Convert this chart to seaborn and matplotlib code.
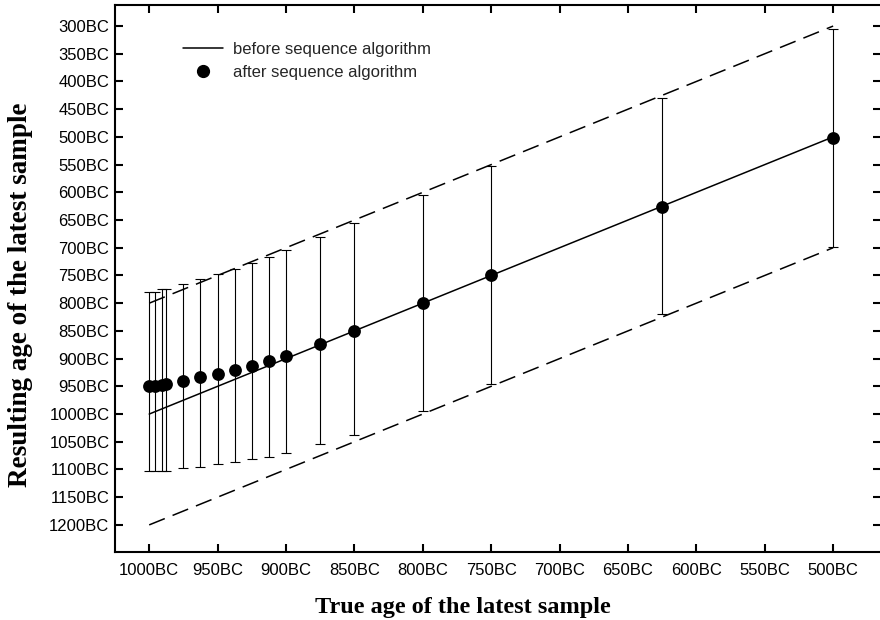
import matplotlib
matplotlib.use("Agg")
import matplotlib.pyplot as plt
import seaborn as sns
import pandas as pd
from matplotlib.lines import Line2D

# True age (years BC) of the latest sample in each simulated sequence
true_age = [1000, 996, 991, 988, 975, 962.5, 950, 937.5, 925, 912.5,
            900, 875, 850, 800, 750, 625, 500]
# Resulting age after the sequence algorithm (years BC)
after_mean = [950, 949, 947, 946, 940, 934, 928, 921, 914, 905,
              896, 873, 850, 800, 750, 626, 502]
# Upper (younger) and lower (older) ends of the resulting age range
after_young = [780, 780, 775, 775, 765, 757, 748, 739, 728, 716,
               704, 681, 655, 605, 553, 430, 306]
after_old = [1102, 1102, 1102, 1102, 1098, 1095, 1091, 1087, 1082, 1077,
             1070, 1054, 1037, 995, 945, 820, 698]

# Before the sequence algorithm: resulting age equals the true age, +-200 years
before_true = [1000, 500]
before_mean = [1000, 500]
before_halfwidth = 200

y_ticks = list(range(300, 1201, 50))
x_ticks = list(range(1000, 499, -50))

sns.set_style("ticks")
plt.rcParams["font.family"] = ["Liberation Sans", "DejaVu Sans"]

fig = plt.figure(figsize=(8.8, 6.2), dpi=100)
ax = fig.add_axes([115 / 880, (620 - 551.5) / 620, (881 - 115) / 880, (551.5 - 5) / 620])
ax.set_facecolor("white")

# Years BC are plotted as negative numbers so time runs left to right / bottom to top
before = pd.DataFrame({
    "x": [-v for v in before_true],
    "mid": [-v for v in before_mean],
    "hi": [-(v - before_halfwidth) for v in before_mean],
    "lo": [-(v + before_halfwidth) for v in before_mean],
})
sns.lineplot(data=before, x="x", y="mid", ax=ax, color="black", linewidth=1.1)
for col in ("hi", "lo"):
    sns.lineplot(data=before, x="x", y=col, ax=ax, color="black",
                 linewidth=1.1, dashes=False).lines[-1].set_dashes((11, 5.5))

after = pd.DataFrame({
    "x": [-v for v in true_age],
    "y": [-v for v in after_mean],
    "young": [-v for v in after_young],
    "old": [-v for v in after_old],
})
ax.errorbar(after["x"], after["y"],
            yerr=[after["y"] - after["old"], after["young"] - after["y"]],
            fmt="none", ecolor="black", elinewidth=0.8, capsize=3.5, capthick=0.8)
sns.scatterplot(data=after, x="x", y="y", ax=ax, color="black", s=85,
                edgecolor="black", linewidth=0, zorder=5)

ax.set_xlim(-1025, -465)
ax.set_ylim(-1248, -262)
ax.set_xticks([-v for v in x_ticks])
ax.set_xticklabels([f"{v}BC" for v in x_ticks])
ax.set_yticks([-v for v in y_ticks])
ax.set_yticklabels([f"{v}BC" for v in y_ticks])
ax.tick_params(axis="both", direction="in", length=6, width=1.5,
               labelsize=12, colors="black", labelcolor="black", top=True, right=True)
ax.tick_params(axis="x", pad=8)
ax.tick_params(axis="y", pad=4)
for s in ax.spines.values():
    s.set_visible(True)
    s.set_linewidth(1.5)
    s.set_color("black")

ax.set_xlabel("True age of the latest sample", fontfamily="Liberation Serif",
              fontweight="bold", fontsize=17.5, color="black", labelpad=14)
ax.set_ylabel("Resulting age of the latest sample", fontfamily="Liberation Serif",
              fontweight="bold", fontsize=19.5, color="black", labelpad=12)
ax.xaxis.set_label_coords((463 - 115) / 766, -0.083)
ax.xaxis.label.set_verticalalignment("top")
ax.yaxis.label.set_y((551.5 - 294.5) / 546.5)

handles = [
    Line2D([], [], color="black", linewidth=1.1),
    Line2D([], [], color="black", marker="o", markersize=8.5, linestyle="none"),
]
ax.legend(handles, ["before sequence algorithm", "after sequence algorithm"],
          loc="upper left", bbox_to_anchor=((183 - 115) / 766, (551.5 - 42) / 546.5),
          frameon=False, fontsize=12, handlelength=2.4, handletextpad=0.6,
          borderpad=0, borderaxespad=0, labelspacing=0.45)

fig.savefig("out.png", dpi=100, facecolor="white")
